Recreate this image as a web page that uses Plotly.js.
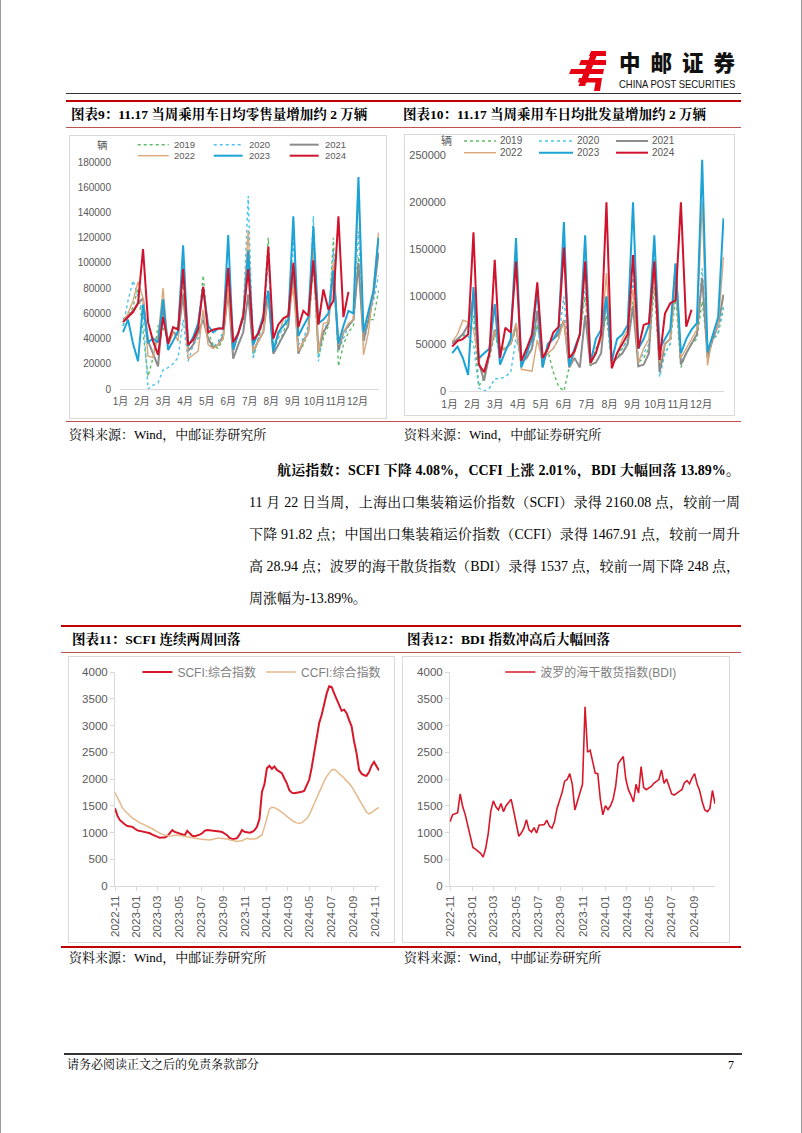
<!DOCTYPE html>
<html><head><meta charset="utf-8">
<script src="https://cdn.plot.ly/plotly-3.0.1.min.js"></script>
<style>
html,body{margin:0;padding:0;background:#fff;}
#page{position:relative;width:802px;height:1133px;overflow:hidden;background:#fff;box-sizing:border-box;border-left:1px solid #9a9a9a;border-right:1px solid #9a9a9a;}
.serif{font-family:"Liberation Serif","Noto Serif CJK SC","Noto Sans CJK SC",serif;color:#000;position:absolute;white-space:nowrap;}
.title{font-weight:bold;font-size:13.5px;line-height:18px;}
.src{font-size:13px;line-height:18px;}
.para{font-size:14px;line-height:20px;}
.just{text-align:justify;text-align-last:justify;white-space:normal;overflow:hidden;height:20px;}
.hl{position:absolute;}
.chart{position:absolute;outline:1px solid #D9D9D9;}
</style>
</head><body>
<div id="page">
  <!-- logo -->
  <svg style="position:absolute;left:0;top:0" width="802" height="100">
    <g fill="#E60012">
      <polygon points="590,51 605,51 605,56 588,56"/>
      <polygon points="580,60 605,60 605,65 578,65"/>
      <polygon points="570,69 603,69 602,74 568,74"/>
      <polygon points="591,51 597.5,51 584,86 577.5,86"/>
      <polygon points="578,78 601,78 599,91 593,91 594.5,82.5 577,82.5"/>
    </g>
  </svg>
  <div style="position:absolute;left:618px;top:51px;font-family:'Noto Sans CJK SC',sans-serif;font-weight:900;font-size:21.5px;line-height:22px;letter-spacing:10px;color:#111;white-space:nowrap;">中邮证券</div>
  <div style="position:absolute;left:618px;top:79px;font-family:'Liberation Sans',sans-serif;font-size:10.5px;line-height:10px;color:#111;white-space:nowrap;transform:scaleX(0.9);transform-origin:0 0;">CHINA POST SECURITIES</div>

  <div class="hl" style="left:65px;top:92.5px;width:675px;height:1.5px;background:#333;"></div>
  <div class="hl" style="left:65px;top:100px;width:675px;height:2px;background:#C00000;"></div>

  <div class="serif title" style="left:70px;top:106px;">图表9：11.17 当周乘用车日均零售量增加约 2 万辆</div>
  <div class="serif title" style="left:402px;top:106px;">图表10：11.17 当周乘用车日均批发量增加约 2 万辆</div>
  <div class="hl" style="left:65px;top:127px;width:675px;height:1px;background:#C0504D;"></div>

  <div id="c9" class="chart" style="left:69px;top:136px;width:316px;height:282px;"></div>
  <div id="c10" class="chart" style="left:404px;top:135px;width:329px;height:280px;"></div>

  <div class="hl" style="left:65px;top:421px;width:675px;height:1px;background:#C0504D;"></div>
  <div class="serif src" style="left:68px;top:426px;">资料来源：Wind，中邮证券研究所</div>
  <div class="serif src" style="left:403px;top:426px;">资料来源：Wind，中邮证券研究所</div>

  <div class="serif para just" style="left:276px;top:461px;width:463px;font-weight:bold;">航运指数：SCFI 下降 4.08%，CCFI 上涨 2.01%，BDI 大幅回落 13.89%。</div>
  <div class="serif para just" style="left:248px;top:493px;width:491px;">11 月 22 日当周，上海出口集装箱运价指数（SCFI）录得 2160.08 点，较前一周</div>
  <div class="serif para just" style="left:248px;top:525px;width:491px;">下降 91.82 点；中国出口集装箱运价指数（CCFI）录得 1467.91 点，较前一周升</div>
  <div class="serif para just" style="left:248px;top:557px;width:491px;">高 28.94 点；波罗的海干散货指数（BDI）录得 1537 点，较前一周下降 248 点，</div>
  <div class="serif para" style="left:248px;top:589px;">周涨幅为-13.89%。</div>

  <div class="hl" style="left:60px;top:625px;width:680px;height:2px;background:#C00000;"></div>
  <div class="serif title" style="left:71px;top:631px;">图表11：SCFI 连续两周回落</div>
  <div class="serif title" style="left:406px;top:631px;">图表12：BDI 指数冲高后大幅回落</div>
  <div class="hl" style="left:60px;top:652px;width:680px;height:1px;background:#C0504D;"></div>

  <div id="c11" class="chart" style="left:68px;top:657px;width:325px;height:285px;"></div>
  <div id="c12" class="chart" style="left:402px;top:657px;width:326px;height:285px;"></div>

  <div class="hl" style="left:60px;top:946px;width:680px;height:2px;background:#C00000;"></div>
  <div class="serif src" style="left:68px;top:949px;">资料来源：Wind，中邮证券研究所</div>
  <div class="serif src" style="left:403px;top:949px;">资料来源：Wind，中邮证券研究所</div>

  <div class="hl" style="left:63px;top:1053px;width:678px;height:2px;background:#333;"></div>
  <div class="serif" style="left:66px;top:1057px;font-size:12px;line-height:16px;">请务必阅读正文之后的免责条款部分</div>
  <div class="serif" style="left:727px;top:1057px;font-size:12px;line-height:16px;">7</div>
</div>

<script>
// ---------------- DATA ----------------
var monthLabels = ['1月','2月','3月','4月','5月','6月','7月','8月','9月','10月','11月','12月'];
var yearNames = ['2019','2020','2021','2022','2023','2024'];

// Chart 9: weekly average daily retail sales (辆)
var retail2019 = [50000,58000,65000,80000,45000, 10000,25000,50000,48000, 40000,45000,50000,85000, 35000,40000,50000,90000, 45000,35000,32000,40000,85000, 30000,45000,55000,100000, 25000,40000,55000,120000, 28000,35000,45000,55000,90000, 30000,35000,45000,100000, 25000,40000,50000,120000, 18000,35000,45000,50000,105000, 40000,55000,55000,78000];
var retail2020 = [50000,70000,86000,72000,60000, 0,3000,5000,15000, 17000,20000,25000,55000, 22000,35000,40000,60000, 35000,33000,38000,45000,95000, 30000,45000,60000,153000, 25000,40000,55000,100000, 30000,40000,50000,60000,120000, 35000,40000,50000,137000, 22000,45000,55000,110000, 30000,40000,50000,55000,125000, 35000,55000,70000,90000];
var retail2021 = [55000,58000,62000,68000,72000, 38000,28000,18000,65000, 35000,45000,43000,75000, 30000,35000,45000,55000, 40000,33000,35000,42000,78000, 24000,35000,45000,75000, 30000,38000,45000,75000, 28000,35000,42000,50000,95000, 28000,38000,45000,112000, 30000,45000,52000,95000, 31000,45000,50000,55000,100000, 38000,55000,75000,108000];
var retail2022 = [53000,60000,70000,85000,72000, 26000,25000,42000,80000, 35000,45000,38000,100000, 24000,27000,30000,63000, 35000,32000,35000,40000,80000, 30000,45000,60000,126000, 30000,38000,45000,75000, 32000,42000,55000,60000,80000, 30000,37000,45000,110000, 29000,52000,53000,100000, 35000,45000,52000,55000,158000, 27000,45000,80000,124000];
var retail2023 = [45000,55000,36000,22000,67000, 37000,40000,37000,71000, 31000,38000,46000,114000, 34000,41000,52000,81000, 50000,45000,48000,48000,122000, 31000,45000,57000,110000, 35000,45000,58000,78000, 30000,45000,50000,55000,137000, 42000,50000,57000,129000, 52000,55000,60000,94000, 36000,50000,62000,60000,168000, 45000,62000,78000,120000];
var retail2024 = [53000,57000,61000,68000,111000, 53000,38000,27000,57000, 36000,49000,47000,95000, 35000,39000,48000,81000, 45000,47000,48000,48000,96000, 37000,44000,58000,95000, 39000,44000,55000,113000, 40000,51000,56000,58000,100000, 49000,62000,58000,102000, 51000,79000,63000,70000,137000, 57000,77000];

// Chart 10: weekly average daily wholesale (辆)
var wholesale2019 = [52000,55000,58000,62000,80000, 5000,15000,35000,60000, 40000,45000,50000,65000, 30000,35000,45000,70000, 40000,42000,20000,5000,0, 25000,45000,60000,100000, 25000,45000,55000,80000, 28000,35000,45000,55000,95000, 30000,35000,45000,110000, 20000,40000,50000,100000, 25000,40000,50000,55000,95000, 45000,55000,60000,88000];
var wholesale2020 = [52000,55000,60000,58000,50000, 3000,0,3000,13000, 13000,15000,20000,55000, 35000,40000,45000,70000, 35000,40000,45000,55000,100000, 30000,45000,60000,110000, 30000,40000,55000,95000, 30000,40000,45000,55000,120000, 30000,40000,50000,150000, 15000,40000,50000,120000, 30000,40000,50000,60000,130000, 40000,55000,62000,90000];
var wholesale2021 = [50000,55000,60000,70000,100000, 30000,11000,40000,65000, 45000,45000,50000,70000, 30000,35000,45000,85000, 25000,50000,55000,60000,75000, 25000,35000,25000,80000, 28000,30000,40000,100000, 30000,35000,40000,50000,90000, 26000,28000,40000,140000, 20000,50000,55000,135000, 28000,40000,50000,60000,120000, 35000,55000,70000,102000];
var wholesale2022 = [52000,60000,75000,73000,65000, 33000,40000,45000,64000, 45000,45000,50000,72000, 23000,22000,21000,54000, 32000,40000,45000,55000,75000, 25000,40000,60000,130000, 28000,40000,55000,125000, 28000,40000,55000,65000,108000, 30000,45000,55000,140000, 30000,50000,55000,110000, 35000,45000,55000,65000,200000, 27000,60000,68000,142000];
var wholesale2023 = [40000,47000,35000,17000,110000, 35000,40000,45000,92000, 28000,42000,55000,162000, 25000,40000,55000,108000, 25000,50000,55000,65000,179000, 26000,45000,60000,165000, 30000,55000,65000,100000, 32000,55000,60000,70000,200000, 45000,55000,70000,165000, 45000,55000,65000,135000, 40000,55000,65000,72000,245000, 41000,60000,78000,183000];
var wholesale2024 = [47000,53000,55000,60000,168000, 28000,20000,40000,139000, 35000,67000,62000,137000, 32000,45000,60000,115000, 35000,45000,62000,68000,152000, 35000,42000,60000,137000, 30000,40000,60000,200000, 24000,40000,50000,60000,144000, 45000,70000,72000,137000, 33000,82000,93000,96000,200000, 68000,86000];

// Chart 11: weekly SCFI / CCFI, 2022-11-11 .. 2024-11-22
var freightStart = '2022-11-11';
var scfi = [1454,1310,1230,1180,1150,1120,1110,1105,1070,1040,1030,1020,1005,995,985,960,935,915,900,905,905,930,1000,1045,1010,995,985,965,950,1030,980,940,930,940,960,985,1030,1045,1040,1035,1035,1036,1020,1010,980,950,900,880,885,895,960,1048,1015,1000,995,1010,1040,1105,1250,1760,1900,2200,2247,2190,2235,2170,2140,2110,2010,1920,1790,1745,1735,1740,1745,1760,1780,1880,1990,2220,2490,2700,3050,3200,3400,3600,3734,3720,3600,3480,3370,3275,3296,3230,3100,2985,2700,2480,2170,2100,2070,2060,2130,2250,2320,2250,2160];
var ccfi = [1747,1640,1540,1460,1400,1350,1310,1270,1240,1205,1180,1160,1140,1125,1100,1070,1040,1010,990,965,950,940,935,940,950,955,945,935,925,920,910,900,893,885,878,874,868,862,861,870,885,893,893,890,893,880,865,850,838,830,840,845,870,893,880,874,880,893,920,955,1100,1290,1440,1470,1465,1440,1410,1380,1345,1300,1260,1220,1195,1180,1172,1180,1215,1260,1330,1440,1530,1640,1750,1850,1960,2050,2110,2170,2180,2150,2100,2060,2020,1960,1920,1860,1780,1700,1620,1530,1460,1380,1350,1370,1410,1440,1468];

// Chart 12: weekly BDI, 2022-11-25 .. 2024-11-22
var bdiStart = '2022-11-25';
var bdi = [1200,1330,1350,1370,1720,1480,1330,1120,880,720,690,650,610,540,700,980,1400,1590,1480,1420,1540,1390,1500,1560,1620,1400,1150,930,990,1080,1240,1050,1010,1090,990,1140,1140,1150,1230,1120,1080,1200,1450,1600,1750,1960,1990,2100,1900,1420,1590,1720,1900,3350,2500,2540,2300,2110,2100,1620,1330,1500,1430,1500,1620,1860,2290,2360,2420,2000,1800,1700,1570,1900,1740,2230,1840,1800,1830,1860,1920,1960,1990,2170,1920,2000,1860,1720,1700,1740,1770,1800,1930,1970,1910,2020,2100,1900,1780,1570,1420,1390,1450,1785,1537];

// ---------------- STYLE ----------------
var yearStyles = [
  {color:'#5DBB63', width:1.4, dash:'dot'},
  {color:'#4CC3EA', width:1.4, dash:'dot'},
  {color:'#8C8C8C', width:2,   dash:'solid'},
  {color:'#D9A77A', width:1.4, dash:'solid'},
  {color:'#1BA3D8', width:2,   dash:'solid'},
  {color:'#D0122C', width:2,   dash:'solid'}
];
var FONT = 'Liberation Sans, Noto Sans CJK SC, sans-serif';
var TICKC = '#595959';
var cfg = {staticPlot:true, displayModeBar:false};

function weekIdx(arr){ var x=[]; for (var i=0;i<arr.length;i++) x.push(i+1); return x; }
function weeklyDates(start, n){
  var d0 = new Date(start+'T00:00:00Z'), out=[];
  for (var i=0;i<n;i++){ var d=new Date(d0.getTime()+i*7*86400000); out.push(d.toISOString().slice(0,10)); }
  return out;
}
var monthTickVals = monthLabels.map(function(_,m){ return 0.5 + 4.3*m; });

function seasonalChart(id, series, yMax, yStep, box, legendPos, unitPos, tickSize, xTickSize, standoff){
  var traces = series.map(function(s,i){
    return {x: weekIdx(s), y: s, type:'scatter', mode:'lines', name: yearNames[i],
      line: {color: yearStyles[i].color, width: yearStyles[i].width, dash: yearStyles[i].dash},
      showlegend:false, hoverinfo:'skip'};
  });
  var shapes=[], ann=[];
  function px(x){ return (x - box.l)/box.w; }
  function py(y){ return (box.t + box.h - y)/box.h; }
  yearNames.forEach(function(n,i){
    var col = i%3, row = Math.floor(i/3);
    var lp = legendPos.cols[col], yy = legendPos.rows[row];
    shapes.push({type:'line', xref:'paper', yref:'paper', x0:px(lp[0]), x1:px(lp[1]), y0:py(yy), y1:py(yy),
      line:{color:yearStyles[i].color, width:yearStyles[i].width, dash:yearStyles[i].dash}});
    ann.push({xref:'paper', yref:'paper', x:px(lp[2]), y:py(yy), xanchor:'left', yanchor:'middle', showarrow:false,
      text:n, font:{family:FONT, size:legendPos.size, color:TICKC}});
  });
  ann.push({xref:'paper', yref:'paper', x:px(unitPos[0]), y:py(unitPos[1]), xanchor:'center', yanchor:'middle',
    showarrow:false, text:'辆', font:{family:FONT, size:legendPos.size+1, color:TICKC}});
  var layout = {
    width: box.W, height: box.H, paper_bgcolor:'#fff', plot_bgcolor:'#fff', showlegend:false,
    margin:{l: box.l-box.X, r: box.X+box.W-box.l-box.w, t: box.t-box.Y, b: box.Y+box.H-box.t-box.h, pad:0, autoexpand:false},
    xaxis:{range:[0.4,52.1], tickmode:'array', tickvals: monthTickVals, ticktext: monthLabels, tickangle:0, showgrid:false, zeroline:false,
      showline:true, linecolor:'#D9D9D9', linewidth:1, ticks:'', ticklabelstandoff:3, tickfont:{family:FONT, size:xTickSize, color:TICKC}},
    yaxis:{range:[0,yMax], dtick:yStep, tickformat:'d', showgrid:false, zeroline:false, showline:false, ticks:'',
      ticklabelstandoff: standoff, tickfont:{family:FONT, size:tickSize, color:TICKC}},
    shapes: shapes, annotations: ann
  };
  Plotly.newPlot(id, traces, layout, cfg);
}

seasonalChart('c9', [retail2019,retail2020,retail2021,retail2022,retail2023,retail2024], 180000, 20000,
  {X:69, Y:136, W:316, H:282, l:119.3, t:162.3, w:259, h:226.7},
  {cols:[[137,168,171],[213,242,246],[289,318,322]], rows:[145,156], size:9.5},
  [101.5,145], 10, 10, 8);

seasonalChart('c10', [wholesale2019,wholesale2020,wholesale2021,wholesale2022,wholesale2023,wholesale2024], 250000, 50000,
  {X:404, Y:135, W:329, H:280, l:448, t:155, w:275, h:236},
  {cols:[[463,495,497],[538,572,574],[615,647,649]], rows:[141,152.7], size:10},
  [445,141], 11, 10.5, 2);

function freightLayout(box, start, end, legendX){
  return {
    width: box.W, height: box.H, paper_bgcolor:'#fff', plot_bgcolor:'#fff',
    margin:{l: box.l-box.X, r: box.X+box.W-box.l-box.w, t: box.t-box.Y, b: box.Y+box.H-box.t-box.h, pad:0, autoexpand:false},
    showlegend:true,
    legend:{orientation:'h', x:legendX, xanchor:'left', y:1.0, yanchor:'middle', bgcolor:'rgba(0,0,0,0)',
      font:{family:FONT, size:12, color:'#7F7F7F'}, itemwidth:30, tracegroupgap:0},
    xaxis:{type:'date', range:[start,end], tick0:start, dtick:'M2', tickformat:'%Y-%m', tickangle:-90,
      showgrid:false, zeroline:false, showline:true, linecolor:'#D9D9D9', ticks:'outside', ticklen:4, tickcolor:'#D9D9D9',
      tickfont:{family:FONT, size:11.5, color:TICKC}},
    yaxis:{range:[0,4000], dtick:500, showgrid:false, zeroline:false, showline:true, linecolor:'#D9D9D9',
      ticks:'outside', ticklen:4, tickcolor:'#D9D9D9', tickfont:{family:FONT, size:11.5, color:TICKC}}
  };
}

var fDates = weeklyDates(freightStart, scfi.length);
Plotly.newPlot('c11', [
  {x:fDates, y:scfi, type:'scatter', mode:'lines', name:'SCFI:综合指数', line:{color:'#D7182A', width:2}, hoverinfo:'skip'},
  {x:fDates, y:ccfi, type:'scatter', mode:'lines', name:'CCFI:综合指数', line:{color:'#E6B98C', width:1.5}, hoverinfo:'skip'}
], freightLayout({X:68, Y:657, W:325, H:285, l:114.3, t:672.3, w:263.7, h:213.7}, freightStart, fDates[fDates.length-1], 0.085), cfg);

var bDates = weeklyDates(bdiStart, bdi.length);
Plotly.newPlot('c12', [
  {x:bDates, y:bdi, type:'scatter', mode:'lines', name:'波罗的海干散货指数(BDI)', line:{color:'#D7182A', width:1.6}, hoverinfo:'skip'}
], freightLayout({X:402, Y:657, W:326, H:285, l:449.3, t:672, w:265, h:213.7}, bdiStart, bDates[bDates.length-1], 0.19), cfg);
</script>
</body></html>
